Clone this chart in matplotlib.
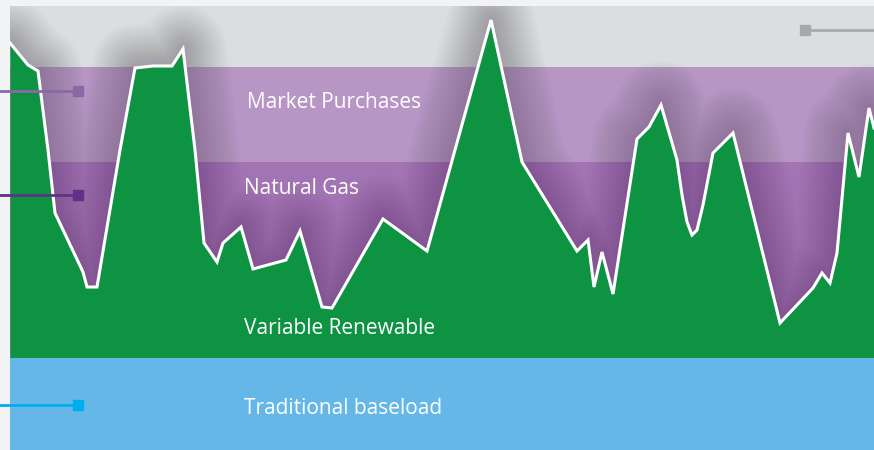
"""
Resource stack sketch: baseload, variable renewable, natural gas, market purchases.
"""

import matplotlib.pyplot as plt
from matplotlib.patches import Rectangle

# hour-ish position along the day and the renewable output level
hours = [10, 28, 33, 38, 48, 55, 83, 87, 97, 120, 135, 153, 172, 183, 195, 204,
         217, 223, 241, 253, 286, 300, 322, 332, 383, 427, 491, 522, 577, 588,
         594, 602, 613, 637, 649, 661, 677, 682, 687, 692, 697, 703, 713, 733,
         780, 813, 822, 830, 837, 848, 859, 869, 874]
renewable = [407, 385, 382, 379, 300, 237, 178, 163, 163, 300, 382, 384, 384,
             401, 300, 207, 188, 207, 223, 181, 190, 219, 143, 142, 231, 199,
             430, 288, 199, 210, 163, 198, 156, 311, 323, 345, 290, 255, 228,
             215, 220, 245, 297, 317, 127, 162, 177, 167, 197, 317, 273, 342, 322]

# layer boundaries (bottom, top)
layers = ["Traditional baseload", "Variable Renewable", "Natural Gas",
          "Market Purchases", "Other"]
layer_bottom = [0, 92, 92, 288, 383]
layer_top = [92, 288, 288, 383, 444]
layer_colors = ["#65b7e7", "#0e9343", "#a274b3", "#b795c5", "#dcdddf"]
label_y = [42, 122, 261, 347]

marker_y = [45, 255, 359]
marker_colors = ["#00aeef", "#5e3288", "#8b67a8"]

fig = plt.figure(figsize=(8.74, 4.5), dpi=100, facecolor="#f2f3f5")
ax = fig.add_axes([10 / 874, 0, 864 / 874, 444 / 450])
ax.set_xlim(10, 874)
ax.set_ylim(0, 444)
ax.axis("off")

# background bands (renewable band is drawn as the filled line)
for i in [0, 2, 3, 4]:
    ax.add_patch(Rectangle((10, layer_bottom[i]), 864,
                           layer_top[i] - layer_bottom[i],
                           color=layer_colors[i], lw=0, zorder=1))

# soft shadow around the renewable line
for w in range(2, 66, 2):
    ax.plot(hours, renewable, color="#2b1533", alpha=0.009, lw=w,
            solid_joinstyle="round", solid_capstyle="round", zorder=2)

ax.fill_between(hours, 92, renewable, color=layer_colors[1], lw=0, zorder=3)
ax.plot(hours, renewable, color="white", lw=2.2, solid_joinstyle="miter", zorder=4)
ax.add_patch(Rectangle((10, 0), 864, 92, color=layer_colors[0], lw=0, zorder=3))

# labels
for name, y in zip(layers[:4], label_y):
    x = 247 if name == "Market Purchases" else 244
    ax.text(x, y, name, color="white", fontsize=15, family="Open Sans",
            va="center", ha="left", zorder=5)

# leader lines on the left
for y, c in zip(marker_y, marker_colors):
    ax.plot([0, 78], [y, y], color=c, lw=2, clip_on=False, zorder=5)
    ax.plot([78], [y], marker="s", ms=7, color=c, clip_on=False, zorder=6)

# grey leader on the right
ax.plot([805, 874], [420, 420], color="#a7a9ac", lw=2, zorder=5)
ax.plot([805], [420], marker="s", ms=7, color="#a7a9ac", zorder=6)

fig.savefig("out.png", dpi=100, facecolor=fig.get_facecolor())
